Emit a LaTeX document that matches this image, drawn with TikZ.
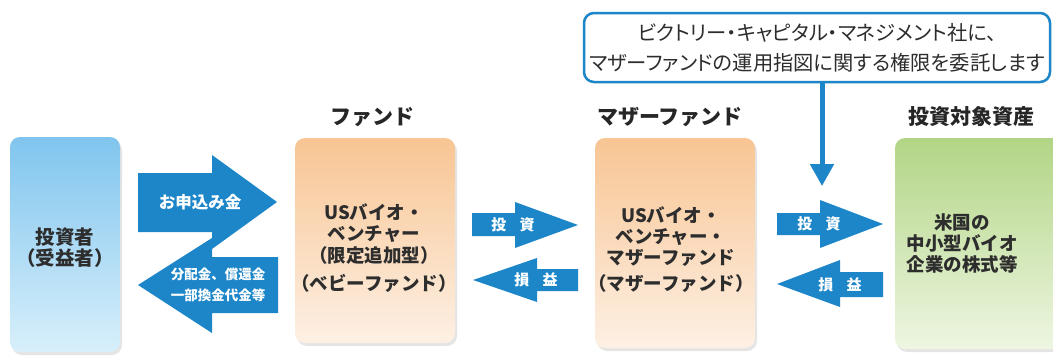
\documentclass[tikz,border=0pt]{standalone}
\usepackage{fontspec}
\setmainfont{Noto Sans CJK JP}
\newfontfamily\pfont{Noto Sans CJK JP}[RawFeature=+palt]
\usetikzlibrary{arrows.meta,shadows}
\definecolor{arrblue}{RGB}{28,134,201}
\definecolor{txtdark}{RGB}{45,45,45}
\definecolor{bluetop}{RGB}{128,197,238}
\definecolor{bluebot}{RGB}{216,239,251}
\definecolor{orgtop}{RGB}{248,197,147}
\definecolor{orgbot}{RGB}{253,240,228}
\definecolor{grntop}{RGB}{178,213,133}
\definecolor{grnbot}{RGB}{238,246,226}
\tikzset{
  panel/.style={rounded corners=10pt, draw=none,
    drop shadow={opacity=0.2, shadow xshift=2pt, shadow yshift=-3pt}},
  boxtext/.style={align=center, text=txtdark, font=\bfseries\fontsize{18.5}{21}\selectfont},
  title/.style={text=black!85, font=\bfseries\fontsize{21}{24}\selectfont},
  blockarrow/.style={fill=arrblue},
  arrtext/.style={text=white, align=center, font=\bfseries\fontsize{15}{21}\selectfont},
}
\begin{document}
\begin{tikzpicture}[x=1pt,y=-1pt]
\clip (0,0) rectangle (1053,356);
\fill[white] (0,0) rectangle (1053,356);
% boxes
\node[panel, top color=bluetop, bottom color=bluebot, minimum width=110pt, minimum height=215pt] (inv) at (65,244.5) {};
\node[panel, top color=orgtop, bottom color=orgbot, minimum width=160pt, minimum height=205pt] (fund) at (375,240.5) {};
\node[panel, top color=orgtop, bottom color=orgbot, minimum width=160pt, minimum height=210pt] (mother) at (675,243) {};
\node[panel, top color=grntop, bottom color=grnbot, minimum width=175pt, minimum height=211pt] (asset) at (982.5,243.5) {};
% box texts
\node[boxtext, font=\bfseries\fontsize{19.5}{21}\selectfont] (invT) at (65,248) {投資者\\（受益者）};
\node[boxtext] (fundT) at (374,248) {USバイオ・\\ベンチャー\\[1pt]（限定追加型）\\[7pt]（ベビーファンド）};
\node[boxtext] (motherT) at (671,249.5) {USバイオ・\\ベンチャー・\\マザーファンド\\[5pt]（マザーファンド）};
\node[boxtext] (assetT) at (962,243) {米国の\\中小型バイオ\\企業の株式等};
% titles
\node[title] (t1) at (372,117) {ファンド};
\node[title] (t2) at (670,117) {マザーファンド};
\node[title] (t3) at (971,117) {投資対象資産};
% top callout
\node[draw=arrblue, line width=2.5pt, rounded corners=10pt, fill=white,
      minimum width=466pt, minimum height=69pt, align=center, text=txtdark,
      font=\pfont\fontsize{20.3}{30}\selectfont] (top) at (817,47.5)
      {ビクトリー・キャピタル・マネジメント社に、\\マザーファンドの運用指図に関する権限を委託します};
\coordinate (dtip) at (822,186);
\draw[arrblue, line width=5pt, -{Triangle[width=23pt,length=22pt]}] (top.south -| dtip) -- (dtip);
% block arrows
\fill[blockarrow] (138,173) -- (212,173) -- (212,155) -- (277,202) -- (212,249) -- (212,232) -- (138,232) -- cycle;
\fill[blockarrow] (278,257) -- (212,257) -- (212,238) -- (138,285) -- (212,333) -- (212,313) -- (278,313) -- cycle;
\fill[blockarrow] (472,213) -- (515,213) -- (515,202) -- (578,225) -- (515,248) -- (515,236) -- (472,236) -- cycle;
\fill[blockarrow] (578,269) -- (537,269) -- (537,258) -- (473,280) -- (537,302) -- (537,291) -- (578,291) -- cycle;
\fill[blockarrow] (777,213) -- (820,213) -- (820,200) -- (883,224) -- (820,248) -- (820,235) -- (777,235) -- cycle;
\fill[blockarrow] (883,272) -- (840,272) -- (840,260) -- (777,284) -- (840,307) -- (840,297) -- (883,297) -- cycle;
% arrow texts
\node[arrtext, font=\bfseries\fontsize{16.5}{21}\selectfont] (a1) at (200,202) {お申込み金};
\node[arrtext, font=\bfseries\fontsize{13.5}{21}\selectfont] (a2) at (218,285) {分配金、償還金\\一部換金代金等};
\node[arrtext] (a3) at (513,225) {投\hspace{0.9em}資};
\node[arrtext] (a4) at (536,280) {損\hspace{0.9em}益};
\node[arrtext] (a5) at (819,224) {投\hspace{0.9em}資};
\node[arrtext] (a6) at (840,285) {損\hspace{0.9em}益};
\end{tikzpicture}
\end{document}
